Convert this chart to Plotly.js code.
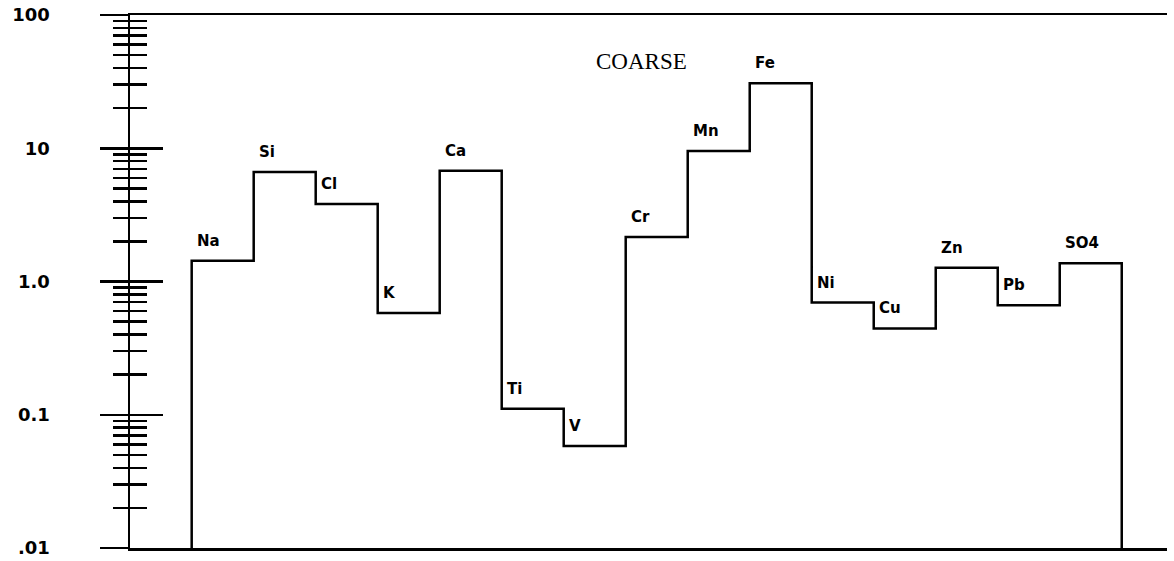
<!DOCTYPE html>
<html>
<head>
<meta charset="utf-8">
<script src="https://cdn.plot.ly/plotly-3.0.1.min.js"></script>
<style>
  html, body { margin: 0; padding: 0; background: #ffffff; }
  #chart { width: 1174px; height: 561px; }
</style>
</head>
<body>
<div id="chart"></div>
<script>
// species and their coarse-fraction values (log scale)
var species = ['Na', 'Si', 'Cl', 'K', 'Ca', 'Ti', 'V', 'Cr', 'Mn', 'Fe', 'Ni', 'Cu', 'Zn', 'Pb', 'SO4'];
var values = [1.43, 6.63, 3.81, 0.58, 6.79, 0.111, 0.0583, 2.16, 9.53, 30.7, 0.695, 0.444, 1.27, 0.663, 1.37];

var tickVals = [0.01, 0.1, 1, 10, 100];
var tickText = ['.01', '0.1', '1.0', '10', '100'];

var floorVal = 0.01;

// step outline: each species occupies one unit wide column
var stepX = [0];
var stepY = [floorVal];
for (var i = 0; i < species.length; i++) {
  stepX.push(i);
  stepY.push(values[i]);
}
stepX.push(species.length);
stepY.push(values[values.length - 1]);
stepX.push(species.length);
stepY.push(floorVal);

var outline = {
  x: stepX,
  y: stepY,
  type: 'scatter',
  mode: 'lines',
  line: { shape: 'hv', color: '#000000', width: 2.5 },
  hoverinfo: 'skip',
  showlegend: false,
};

// invisible copy so the inner tick axis gets drawn
var ghost = {
  x: stepX,
  y: stepY,
  type: 'scatter',
  mode: 'lines',
  yaxis: 'y2',
  line: { color: 'rgba(0,0,0,0)', width: 0 },
  hoverinfo: 'skip',
  showlegend: false,
};

var labelFont = { family: 'DejaVu Sans', size: 15, color: '#000000', weight: 'bold' };

var annotations = species.map(function (name, i) {
  return {
    x: i + 0.06,
    y: Math.log10(values[i]),
    xref: 'x',
    yref: 'y',
    text: name,
    showarrow: false,
    xanchor: 'left',
    yanchor: 'middle',
    yshift: 20,
    font: labelFont,
  };
});

annotations.push({
  x: 0.493,
  y: 0.912,
  xref: 'paper',
  yref: 'paper',
  text: 'COARSE',
  showarrow: false,
  xanchor: 'center',
  yanchor: 'middle',
  font: { family: 'Liberation Serif', size: 23, color: '#000000' },
});

var axisRange = [-2, 2];

var layout = {
  width: 1174,
  height: 561,
  margin: { l: 130, r: 7, t: 15, b: 13 },
  paper_bgcolor: '#ffffff',
  plot_bgcolor: '#ffffff',
  showlegend: false,
  xaxis: {
    range: [-0.995, 15.73],
    showline: true,
    mirror: true,
    linecolor: '#000000',
    linewidth: 2.5,
    showgrid: false,
    zeroline: false,
    showticklabels: false,
    ticks: '',
    fixedrange: true,
  },
  yaxis: {
    type: 'log',
    range: axisRange,
    tickvals: tickVals,
    ticktext: tickText,
    ticks: 'outside',
    ticklen: 28,
    tickwidth: 2.5,
    tickcolor: '#000000',
    ticklabelstandoff: 46,
    tickfont: { family: 'DejaVu Sans', size: 18, color: '#000000', weight: 'bold' },
    minor: { ticks: 'outside', ticklen: 15, tickwidth: 2.5, tickcolor: '#000000', dtick: 'D1' },
    showline: true,
    linecolor: '#000000',
    linewidth: 2.5,
    showgrid: false,
    zeroline: false,
    fixedrange: true,
  },
  yaxis2: {
    type: 'log',
    range: axisRange,
    overlaying: 'y',
    side: 'left',
    anchor: 'x',
    tickvals: tickVals,
    ticks: 'inside',
    ticklen: 33,
    tickwidth: 2.5,
    tickcolor: '#000000',
    showticklabels: false,
    minor: { ticks: 'inside', ticklen: 17, tickwidth: 2.5, tickcolor: '#000000', dtick: 'D1' },
    showline: false,
    showgrid: false,
    zeroline: false,
    fixedrange: true,
  },
  annotations: annotations,
};

Plotly.newPlot('chart', [outline, ghost], layout, { displayModeBar: false, staticPlot: true });
</script>
</body>
</html>
